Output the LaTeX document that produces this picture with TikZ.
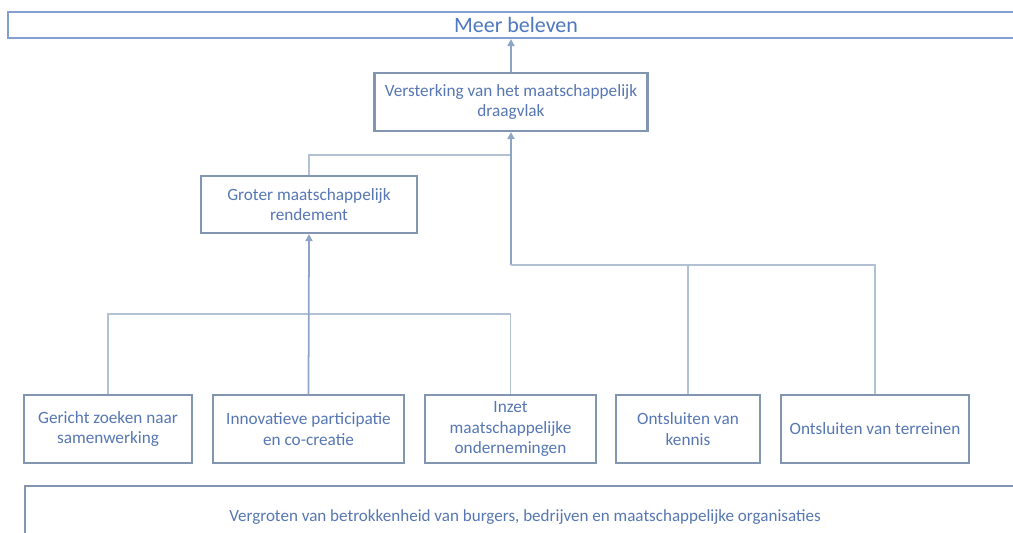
\documentclass[tikz,border=0pt]{standalone}
\usepackage{fontspec}
\setmainfont{Carlito}
\usepackage{xcolor}
\usetikzlibrary{positioning,arrows.meta,calc}
\definecolor{boxline}{HTML}{8296B2}
\definecolor{conline}{HTML}{B3C1D4}
\definecolor{arrline}{HTML}{8EA6C6}
\definecolor{txtblue}{HTML}{5677B4}
\definecolor{topblue}{HTML}{4E78C0}
\begin{document}
\begin{tikzpicture}[x=0.02cm,y=-0.02cm,
  blok/.style={draw=boxline, line width=1.2pt, fill=white, text=txtblue, align=center,
    font=\fontsize{9.8}{11.6}\selectfont, inner sep=2pt},
  verbind/.style={draw=conline, line width=1pt},
  pijl/.style={draw=arrline, line width=1pt, -{Triangle[length=4pt,width=4pt]}}]
\useasboundingbox (0,0) rectangle (1013,533);
% Top level
\node[blok, draw=topblue!70, minimum width=20.32cm, minimum height=0.52cm, text=topblue,
  font=\fontsize{12.5}{14}\selectfont] (meer) at (516,25) {Meer beleven};

% Middle levels
\node[blok, minimum width=5.46cm, minimum height=1.16cm] (vers) at (511,102)
  {Versterking van het maatschappelijk\\draagvlak};
\node[blok, minimum width=4.32cm, minimum height=1.14cm] (grot) at (309,204.5)
  {Groter maatschappelijk\\rendement};

% Bottom row of instruments
\node[blok, minimum width=3.36cm, minimum height=1.36cm] (zoek) at (108,429)
  {Gericht zoeken naar\\samenwerking};
\node[blok, minimum width=3.82cm, minimum height=1.36cm] (part) at (308.5,429)
  {Innovatieve participatie\\en co-creatie};
\node[blok, minimum width=3.42cm, minimum height=1.36cm] (inzet) at (510.5,429)
  {Inzet\\maatschappelijke\\ondernemingen};
\node[blok, minimum width=2.88cm, minimum height=1.36cm] (kennis) at (688,429)
  {Ontsluiten van\\kennis};
\node[blok, minimum width=3.76cm, minimum height=1.36cm] (terr) at (875,429)
  {Ontsluiten van terreinen};

% Base
\node[blok, minimum width=20.1cm, minimum height=1.28cm] (basis) at (527.5,518) {};
\node[text=txtblue, font=\fontsize{9.7}{11.6}\selectfont] (basistxt) at (525,517)
  {Vergroten van betrokkenheid van burgers, bedrijven en maatschappelijke organisaties};

% Junctions
\coordinate (j1) at (511,155);
\coordinate (j2) at (511,265);
\coordinate (j3) at (309,314);

% Connectors
\draw[pijl] (vers.north) -- (vers.north |- meer.south);
\draw[verbind] (grot.north) |- (j1);
\draw[pijl] (j2) -- (vers.south);
\draw[verbind] (j2) -| (terr.north);
\draw[verbind] (kennis.north) -- (kennis.north |- j2);
\draw[verbind] (zoek.north) |- (j3) -| (inzet.north);
\draw[pijl] (part.north) -- (grot.south);
\end{tikzpicture}
\end{document}
